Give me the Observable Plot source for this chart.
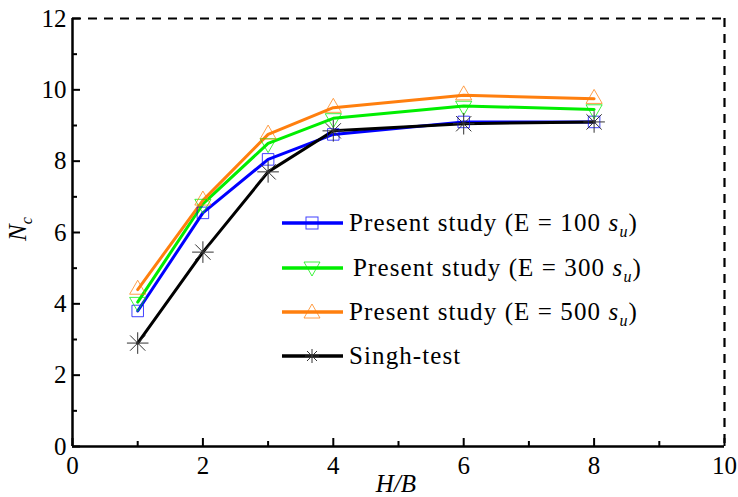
<!DOCTYPE html>
<html><head><meta charset="utf-8">
<script src="https://cdn.jsdelivr.net/npm/d3@7"></script>
<script src="https://cdn.jsdelivr.net/npm/@observablehq/plot@0.6"></script>
<style>
body{margin:0;background:#fff;}
#wrap{position:relative;width:738px;height:497px;overflow:hidden;font-family:"Liberation Serif","Times New Roman",Times,serif;color:#000;}
#wrap svg text{font-family:"Liberation Serif","Times New Roman",Times,serif !important;}
#legend{position:absolute;left:281px;top:0;}
.row{position:absolute;left:0;height:30px;white-space:nowrap;font-size:25px;line-height:30px;}
.row svg{position:absolute;left:0;top:0;}
.row span{position:absolute;top:0;letter-spacing:1.1px;}
.ylab{position:absolute;left:22px;top:229px;transform:translate(-50%,-50%) rotate(-90deg);font-size:25px;font-style:italic;white-space:nowrap;line-height:30px;}
.xlab{position:absolute;left:396px;top:484px;transform:translate(-50%,-50%);font-size:25px;font-style:italic;white-space:nowrap;line-height:26px;}
</style>
</head><body><div id="wrap"></div>
<script>
// data
const hb = [1, 2, 3, 4, 6, 8];
const e100 = [3.8, 6.55, 8.05, 8.75, 9.1, 9.1];
const e300 = [4.05, 6.8, 8.5, 9.2, 9.55, 9.45];
const e500 = [4.4, 6.9, 8.75, 9.5, 9.85, 9.75];
const singh = [2.9, 5.45, 7.7, 8.85, 9.05, 9.1];
const xTicks = [0, 2, 4, 6, 8, 10];
const xMinor = [1, 3, 5, 7, 9];
const yTicks = [0, 2, 4, 6, 8, 10, 12];
const yMinor = [1, 3, 5, 7, 9, 11];
const seriesNames = ["Present study (E = 100 ", "Present study (E = 300 ", "Present study (E = 500 ", "Singh-test"];
const seriesColors = ["#0000ff", "#00ee00", "#ff7f0e", "#000000"];

const series = [
  {name: seriesNames[0], vals: e100, color: seriesColors[0], symbol: "square", rotate: 0, r: 6.5, sub: true},
  {name: seriesNames[1], vals: e300, color: seriesColors[1], symbol: "triangle", rotate: 180, r: 6, sub: true},
  {name: seriesNames[2], vals: e500, color: seriesColors[2], symbol: "triangle", rotate: 0, r: 6, sub: true},
  {name: seriesNames[3], vals: singh, color: seriesColors[3], symbol: "star", rotate: 0, r: 7, sub: false}
];
const rows = series.map(s => ({...s, data: hb.map((x, j) => ({x, y: s.vals[j]}))}));

const FONT = "'Liberation Serif','Times New Roman',Times,serif";
const marks = [];
rows.forEach(s => marks.push(Plot.line(s.data, {x: "x", y: "y", stroke: s.color, strokeWidth: 3})));
rows.forEach(s => {
  if (s.symbol === "star") {
    marks.push(Plot.dot(s.data, {x: "x", y: "y", symbol: "plus", r: s.r, stroke: "#333", strokeWidth: 1, fill: "none"}));
    marks.push(Plot.dot(s.data, {x: "x", y: "y", symbol: "times", r: s.r, stroke: "#333", strokeWidth: 1, fill: "none"}));
  } else {
    marks.push(Plot.dot(s.data, {x: "x", y: "y", symbol: s.symbol, rotate: s.rotate, r: s.r, stroke: s.color, strokeOpacity: 0.75, strokeWidth: 1, fill: "none"}));
  }
});
// frame
marks.push(Plot.ruleY([12], {strokeDasharray: "9,7", strokeWidth: 2.2}));
marks.push(Plot.ruleX([10], {strokeDasharray: "9,7", strokeWidth: 2.2}));
marks.push(Plot.ruleX([0], {strokeWidth: 2.5}));
marks.push(Plot.ruleY([0], {strokeWidth: 2.5}));
// axes
marks.push(Plot.axisX(xTicks, {tickSize: 0, tickPadding: 10, fontSize: 25, fontFamily: FONT, label: null}));
marks.push(Plot.axisX(xTicks, {tickSize: -8, strokeWidth: 2, tickFormat: () => "", label: null}));
marks.push(Plot.axisX(xMinor, {tickSize: -5, strokeWidth: 2, tickFormat: () => "", label: null}));
marks.push(Plot.axisY(yTicks, {tickSize: 0, tickPadding: 6, fontSize: 25, fontFamily: FONT, label: null}));
marks.push(Plot.axisY(yTicks, {tickSize: -8, strokeWidth: 2, tickFormat: () => "", label: null}));
marks.push(Plot.axisY(yMinor, {tickSize: -5, strokeWidth: 2, tickFormat: () => "", label: null}));

const chart = Plot.plot({
  width: 738, height: 497,
  marginLeft: 72, marginRight: 14, marginTop: 18, marginBottom: 51,
  x: {domain: [0, 10]},
  y: {domain: [0, 12]},
  style: {fontFamily: FONT, color: "#000", background: "#fff", overflow: "visible"},
  marks
});
const wrap = document.getElementById("wrap");
wrap.appendChild(chart);

// axis titles
const yl = document.createElement("div");
yl.className = "ylab";
yl.innerHTML = "N<sub style='font-size:16px'>c</sub>";
wrap.appendChild(yl);
const xl = document.createElement("div");
xl.className = "xlab";
xl.textContent = "H/B";
wrap.appendChild(xl);

// legend
const leg = document.createElement("div");
leg.id = "legend";
const rowCenters = [223, 268, 312, 356];
const textLeft = [68, 72, 68, 68];
rows.forEach((s, i) => {
  const r = document.createElement("div");
  r.className = "row";
  r.style.top = (rowCenters[i] - 15) + "px";
  let sym;
  if (s.symbol === "square") sym = `<rect x="25" y="9" width="12" height="12" fill="none" stroke="${s.color}" stroke-opacity="0.75"/>`;
  else if (s.symbol === "triangle" && s.rotate === 180) sym = `<path d="M23,9 L39,9 L31,23 Z" fill="none" stroke="${s.color}" stroke-opacity="0.75"/>`;
  else if (s.symbol === "triangle") sym = `<path d="M31,7 L39,21 L23,21 Z" fill="none" stroke="${s.color}" stroke-opacity="0.75"/>`;
  else sym = `<path d="M31,8v14M24,15h14M26,10l10,10M36,10l-10,10" stroke="#333" fill="none"/>`;
  r.innerHTML = `<svg width="64" height="30"><line x1="1" x2="62" y1="15" y2="15" stroke="${s.color}" stroke-width="3.5"/>${sym}</svg>` +
    `<span style="left:${textLeft[i]}px">${s.name}${s.sub ? "<i>s<sub style='font-size:16px'>u</sub></i>)" : ""}</span>`;
  leg.appendChild(r);
});
wrap.appendChild(leg);
</script>
</body></html>
